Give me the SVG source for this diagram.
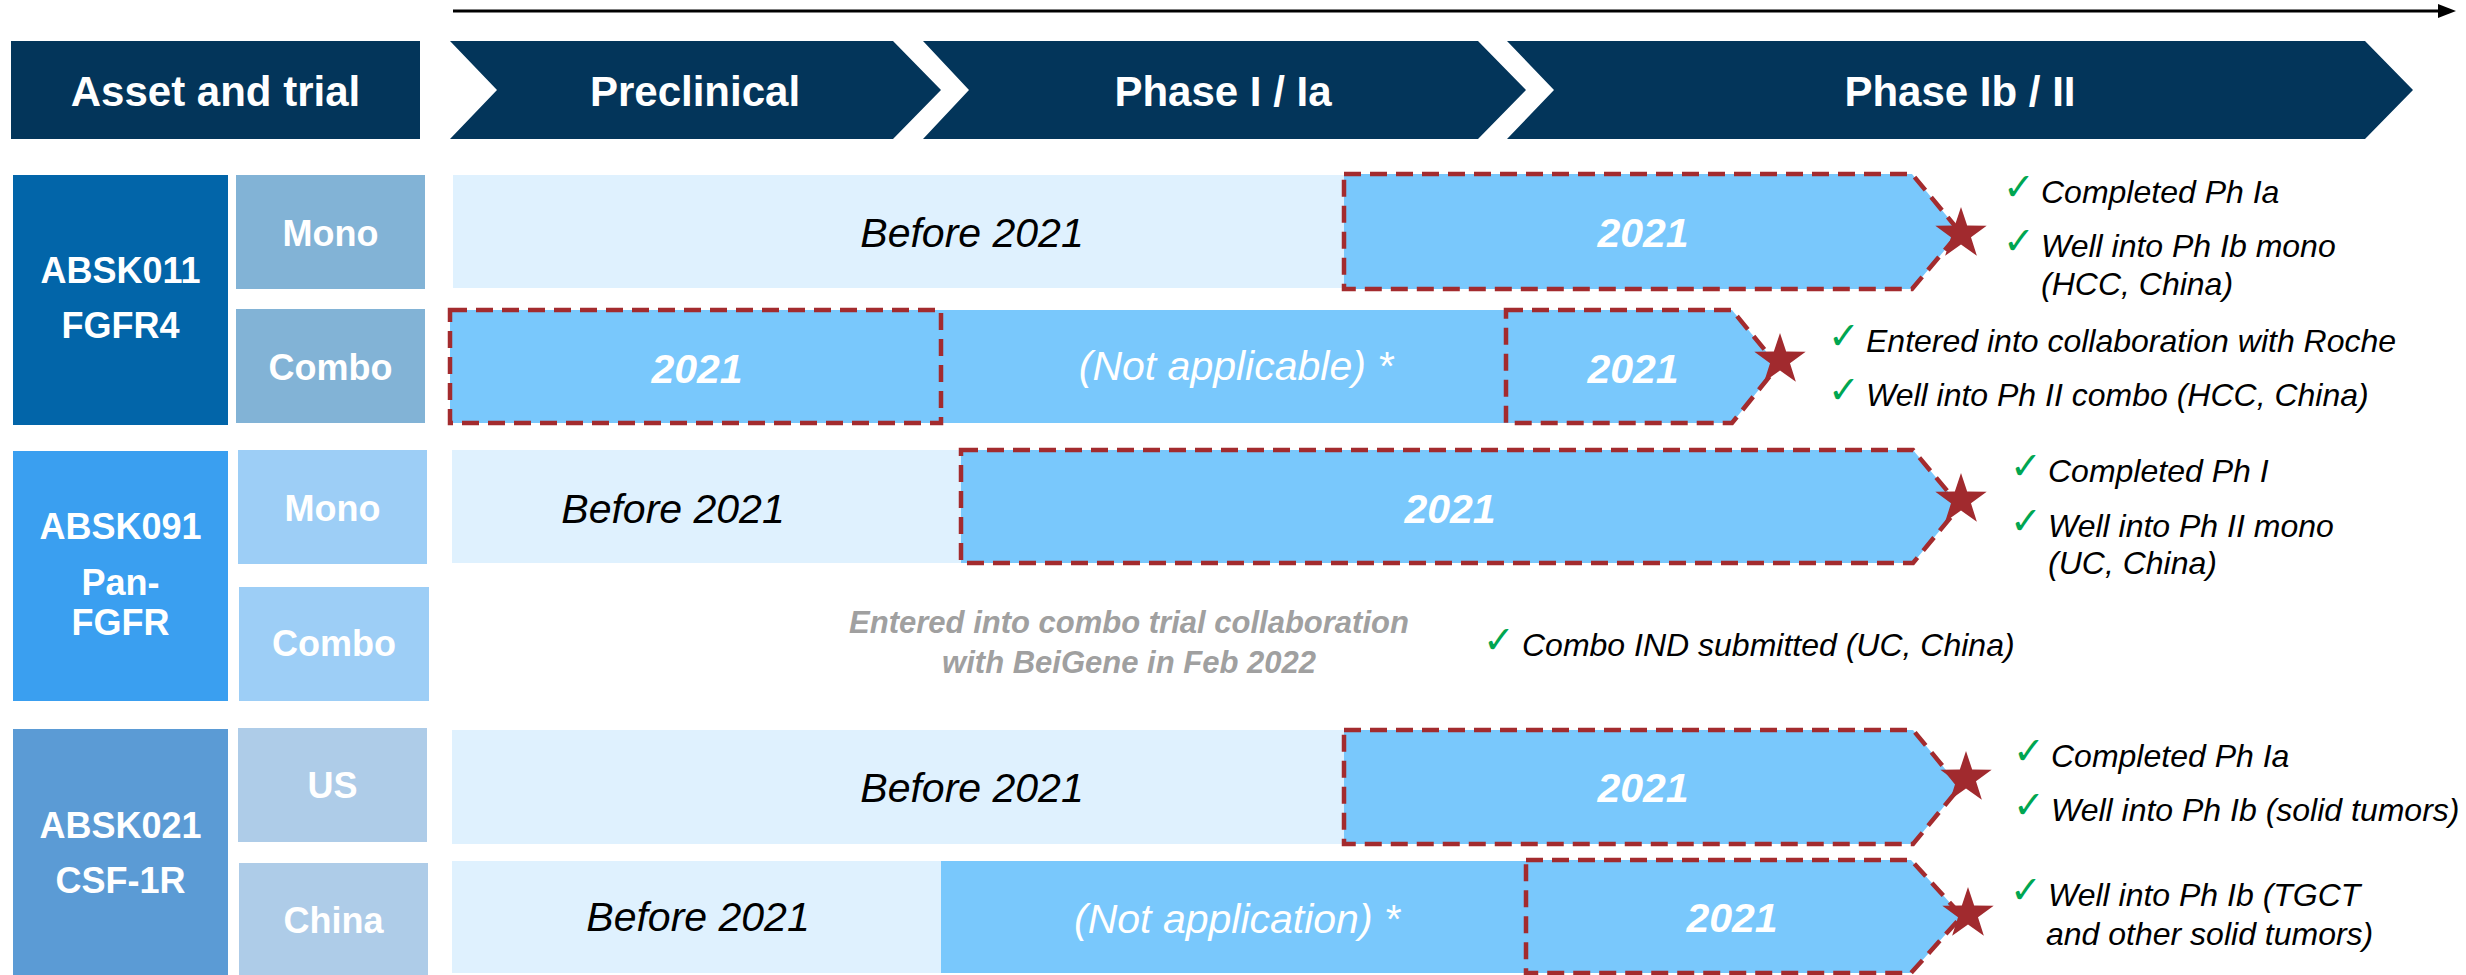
<svg xmlns="http://www.w3.org/2000/svg" width="2466" height="975" viewBox="0 0 2466 975">
<defs>
<style>
text{font-family:"Liberation Sans",Arial,sans-serif}
.hdr{fill:#03355A}
.hd{font-size:42px;font-weight:bold;fill:#fff;text-anchor:middle}
.lb{font-size:36px;font-weight:bold;fill:#fff;text-anchor:middle}
.light{fill:#DFF1FE}
.blue{fill:#79C8FC}
.dash{fill:#79C8FC;stroke:#A32B2E;stroke-width:4.5;stroke-dasharray:17 9}
.dashn{fill:none;stroke:#A32B2E;stroke-width:4.5;stroke-dasharray:17 9}
.bk{font-size:41px;font-style:italic;fill:#000;text-anchor:middle}
.wb{font-size:41px;font-style:italic;font-weight:bold;fill:#fff;text-anchor:middle}
.wi{font-size:41px;font-style:italic;fill:#fff;text-anchor:middle}
.bul{font-size:32px;font-style:italic;fill:#000}
.chk{font-family:"DejaVu Sans",sans-serif;font-size:38px;fill:#00A651}
.gr{font-size:31px;font-style:italic;font-weight:bold;fill:#A0A0A0;text-anchor:middle}
.star{fill:#A12A2E}
</style>
<path id="star" d="M0,-27 L6.17,-8.49 L25.68,-8.34 L9.99,3.24 L15.87,21.84 L0,10.5 L-15.87,21.84 L-9.99,3.24 L-25.68,-8.34 L-6.17,-8.49 Z"/>
</defs>
<rect width="2466" height="975" fill="#fff"/>

<g id="connectors">
<line x1="453" y1="11" x2="2440" y2="11" stroke="#000" stroke-width="3"/>
<polygon points="2438,4 2456,11 2438,18" fill="#000"/>
</g>

<g id="header-asset">
<rect class="hdr" x="11" y="41" width="409" height="98"/>
<text class="hd" x="215.5" y="106">Asset and trial</text>
</g>
<g id="header-preclinical">
<path class="hdr" d="M450,41 L893,41 L941,90 L893,139 L450,139 L497,90 Z"/>
<text class="hd" x="695" y="106">Preclinical</text>
</g>
<g id="header-phase1">
<path class="hdr" d="M923,41 L1478,41 L1526,90 L1478,139 L923,139 L969,90 Z"/>
<text class="hd" x="1223" y="106">Phase I / Ia</text>
</g>
<g id="header-phase2">
<path class="hdr" d="M1507,41 L2365,41 L2413,90 L2365,139 L1507,139 L1554,90 Z"/>
<text class="hd" x="1960" y="106">Phase Ib / II</text>
</g>

<!-- ABSK011 -->
<g id="asset-absk011">
<rect x="13" y="175" width="215" height="250" fill="#0265A9"/>
<text class="lb" x="120.5" y="283">ABSK011</text>
<text class="lb" x="120.5" y="338">FGFR4</text>
</g>
<g id="trial-011-mono">
<rect x="236" y="175" width="189" height="114" fill="#82B3D6"/>
<text class="lb" x="330.5" y="246">Mono</text>
</g>
<g id="trial-011-combo">
<rect x="236" y="309" width="189" height="114" fill="#82B3D6"/>
<text class="lb" x="330.5" y="380">Combo</text>
</g>

<!-- ABSK091 -->
<g id="asset-absk091">
<rect x="13" y="451" width="215" height="250" fill="#3A9FF0"/>
<text class="lb" x="120.5" y="539">ABSK091</text>
<text class="lb" x="120.5" y="595">Pan-</text>
<text class="lb" x="120.5" y="635">FGFR</text>
</g>
<g id="trial-091-mono">
<rect x="238" y="450" width="189" height="114" fill="#9DCEF6"/>
<text class="lb" x="332.5" y="521">Mono</text>
</g>
<g id="trial-091-combo">
<rect x="239" y="587" width="190" height="114" fill="#9DCEF6"/>
<text class="lb" x="334" y="656">Combo</text>
</g>

<!-- ABSK021 -->
<g id="asset-absk021">
<rect x="13" y="729" width="215" height="246" fill="#5B9BD5"/>
<text class="lb" x="120.5" y="838">ABSK021</text>
<text class="lb" x="120.5" y="893">CSF-1R</text>
</g>
<g id="trial-021-us">
<rect x="238" y="728" width="189" height="114" fill="#AECCE8"/>
<text class="lb" x="332.5" y="798">US</text>
</g>
<g id="trial-021-china">
<rect x="239" y="863" width="189" height="112" fill="#AECCE8"/>
<text class="lb" x="333.5" y="933">China</text>
</g>

<!-- Row 1 -->
<g id="bar-011-mono">
<rect class="light" x="453" y="175" width="891" height="113"/>
<path class="dash" d="M1344,174 L1912,174 L1960,232 L1912,289 L1344,289 Z"/>
<text class="bk" x="972" y="247">Before 2021</text>
<text class="wb" x="1643" y="247">2021</text>
<use href="#star" class="star" x="1961" y="234"/>
</g>
<g id="notes-011-mono">
<text class="chk" x="2003" y="200">✓</text>
<text class="bul" x="2041" y="203">Completed Ph Ia</text>
<text class="chk" x="2003" y="254">✓</text>
<text class="bul" x="2041" y="257">Well into Ph Ib mono</text>
<text class="bul" x="2041" y="295">(HCC, China)</text>
</g>

<!-- Row 2 -->
<g id="bar-011-combo">
<rect class="blue" x="450" y="310" width="1060" height="113"/>
<rect class="dashn" x="450" y="310" width="491" height="113"/>
<path class="dash" d="M1506,310 L1732,310 L1778,366 L1732,423 L1506,423 Z"/>
<text class="wb" x="697" y="383">2021</text>
<text class="wi" x="1236" y="380">(Not applicable) *</text>
<text class="wb" x="1633" y="383">2021</text>
<use href="#star" class="star" x="1780" y="360"/>
</g>
<g id="notes-011-combo">
<text class="chk" x="1828" y="349">✓</text>
<text class="bul" x="1866" y="352">Entered into collaboration with Roche</text>
<text class="chk" x="1828" y="403">✓</text>
<text class="bul" x="1866" y="406">Well into Ph II combo (HCC, China)</text>
</g>

<!-- Row 3 -->
<g id="bar-091-mono">
<rect class="light" x="452" y="450" width="509" height="113"/>
<path class="dash" d="M961,450 L1913,450 L1960,506 L1913,563 L961,563 Z"/>
<text class="bk" x="673" y="523">Before 2021</text>
<text class="wb" x="1450" y="523">2021</text>
<use href="#star" class="star" x="1961" y="500"/>
</g>
<g id="notes-091-mono">
<text class="chk" x="2010" y="479">✓</text>
<text class="bul" x="2048" y="482">Completed Ph I</text>
<text class="chk" x="2010" y="534">✓</text>
<text class="bul" x="2048" y="537">Well into Ph II mono</text>
<text class="bul" x="2048" y="574">(UC, China)</text>
</g>

<!-- Row 4 -->
<g id="bar-091-combo">
<text class="gr" x="1129" y="633">Entered into combo trial collaboration</text>
<text class="gr" x="1129" y="673">with BeiGene in Feb 2022</text>
<text class="chk" x="1483" y="653">✓</text>
<text class="bul" x="1522" y="656">Combo IND submitted (UC, China)</text>
</g>

<!-- Row 5 -->
<g id="bar-021-us">
<rect class="light" x="452" y="730" width="892" height="114"/>
<path class="dash" d="M1344,730 L1913,730 L1960,787 L1913,844 L1344,844 Z"/>
<text class="bk" x="972" y="802">Before 2021</text>
<text class="wb" x="1643" y="802">2021</text>
<use href="#star" class="star" x="1966" y="778"/>
</g>
<g id="notes-021-us">
<text class="chk" x="2013" y="764">✓</text>
<text class="bul" x="2051" y="767">Completed Ph Ia</text>
<text class="chk" x="2013" y="818">✓</text>
<text class="bul" x="2051" y="821">Well into Ph Ib (solid tumors)</text>
</g>

<!-- Row 6 -->
<g id="bar-021-china">
<rect class="light" x="452" y="861" width="489" height="112"/>
<rect class="blue" x="941" y="861" width="589" height="112"/>
<path class="dash" d="M1526,860 L1911,860 L1962,916 L1911,973 L1526,973 Z"/>
<text class="bk" x="698" y="931">Before 2021</text>
<text class="wi" x="1237" y="933">(Not application) *</text>
<text class="wb" x="1732" y="932">2021</text>
<use href="#star" class="star" x="1968" y="914"/>
</g>
<g id="notes-021-china">
<text class="chk" x="2010" y="903">✓</text>
<text class="bul" x="2048" y="906">Well into Ph Ib (TGCT</text>
<text class="bul" x="2046" y="945">and other solid tumors)</text>
</g>
</svg>
